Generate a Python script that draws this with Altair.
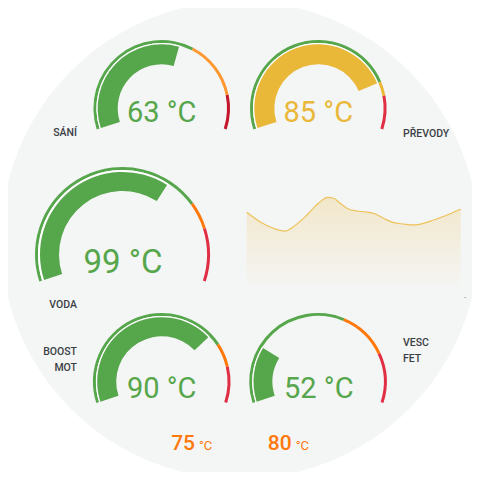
import math
import altair as alt
import pandas as pd

# ---------------- data ----------------
gauge_names = ["SÁNÍ", "PŘEVODY", "VODA", "BOOST MOT", "VESC FET"]
gauge_values = [63, 85, 99, 90, 52]
gauge_min = [0, 0, 0, 0, 30]
gauge_max = [110, 105, 152, 126, 126]
gauge_thresholds = [[69, 95], [85, 91], [114, 127], [96, 108], [88, 107]]

series_t = [0, 3.7, 7.5, 10.8, 13.1, 16.9, 20.1, 22.7, 24.4, 26.2, 28.6,
            30.9, 33.7, 36.1, 38.4, 41.2, 44.0, 46.8, 49.6, 52.4, 56.2, 60]
series_v = [76.5, 66.6, 59.7, 56.8, 61.4, 73.7, 86.0, 92.3, 91.3, 86.0, 79.7,
            77.9, 76.8, 74.7, 70.2, 65.6, 64.2, 63.2, 64.9, 68.4, 73.7, 79.7]

bottom_values = [75, 80]
unit = "°C"

# ---------------- styles / layout ----------------
GREEN = "#56A64B"
YELLOW = "#EAB839"
ORANGE = "#FF780A"
LORANGE = "#FF9830"
RED = "#E02F44"
DRED = "#C4162A"
BG = "#f4f5f5"
LABEL = "#3a3f46"

zone_colors = [
    [GREEN, LORANGE, DRED],
    [GREEN, YELLOW, RED],
    [GREEN, ORANGE, RED],
    [GREEN, ORANGE, RED],
    [GREEN, ORANGE, RED],
]
# cx, cy, ring outer, ring inner, band outer, band inner, font size, text x, text y
layout = [
    (153.7, 100.3, 68.3, 65.3, 64.0, 44.0, 29, 153.7, 113.7),
    (310.3, 100.3, 68.3, 65.3, 64.0, 44.0, 29, 310.3, 113.7),
    (114.5, 246.5, 87.5, 84.5, 82.5, 63.5, 33, 115.0, 265.3),
    (153.7, 373.7, 68.8, 65.8, 64.5, 45.5, 29, 153.7, 390.3),
    (310.0, 373.7, 68.8, 65.8, 64.5, 45.5, 29, 310.8, 390.3),
]
label_pos = [
    (69, [125], "right"),
    (395, [126], "left"),
    (69, [297], "right"),
    (69, [344, 360], "right"),
    (395, [335, 351], "left"),
]

theta_scale = alt.Scale(domain=[0, 1], range=[2 * math.pi - 0.6 * math.pi, 2 * math.pi + 0.6 * math.pi])
FONT = "Roboto"

layers = []

# background circle
layers.append(
    alt.Chart(pd.DataFrame({"a": [0]}))
    .mark_arc(radius=239, radius2=0, theta=0, theta2=2 * math.pi, color=BG)
    .encode(x=alt.value(232), y=alt.value(232))
)

for i in range(len(gauge_names)):
    cx, cy, ro, ri, bo, bi, fs, tx, ty = layout[i]
    mn, mx, val = gauge_min[i], gauge_max[i], gauge_values[i]
    edges = [mn] + gauge_thresholds[i] + [mx]
    ring = pd.DataFrame({
        "start": edges[:-1], "end": edges[1:], "color": zone_colors[i],
        "mn": mn, "mx": mx,
    })
    band_color = zone_colors[i][0]
    for k, t in enumerate(gauge_thresholds[i]):
        if val >= t:
            band_color = zone_colors[i][k + 1]
    band = pd.DataFrame({"start": [mn], "end": [val], "color": [band_color],
                         "mn": [mn], "mx": [mx], "value": [val]})

    def arcs(df, r_out, r_in, color=None):
        ch = alt.Chart(df).transform_calculate(
            fs="(datum.start - datum.mn) / (datum.mx - datum.mn)",
            fe="(datum.end - datum.mn) / (datum.mx - datum.mn)",
        )
        if color is None:
            m = ch.mark_arc(radius=r_out, radius2=r_in)
            enc = dict(color=alt.Color("color:N", scale=None))
        else:
            m = ch.mark_arc(radius=r_out, radius2=r_in, color=color)
            enc = {}
        return m.encode(
            theta=alt.Theta("fs:Q", scale=theta_scale, stack=None),
            theta2="fe:Q",
            x=alt.value(cx), y=alt.value(cy), **enc,
        )

    layers.append(arcs(ring, ro, ri))
    layers.append(arcs(band, ri, bo, color="#ffffff"))
    layers.append(arcs(band, bo, bi))
    layers.append(
        alt.Chart(band).transform_calculate(label="datum.value + ' " + unit + "'")
        .mark_text(font=FONT, fontSize=fs, align="center", baseline="alphabetic")
        .encode(text="label:N", color=alt.Color("color:N", scale=None),
                x=alt.value(tx), y=alt.value(ty))
    )
    lx, lys, al = label_pos[i]
    for word, ly in zip(gauge_names[i].split(" "), lys):
        layers.append(
            alt.Chart(pd.DataFrame({"t": [word]}))
            .mark_text(font=FONT, fontSize=10.5, fontWeight=500, align=al,
                       baseline="middle", color=LABEL)
            .encode(text="t:N", x=alt.value(lx), y=alt.value(ly))
        )

# area sparkline
area_df = pd.DataFrame({"t": series_t, "v": series_v})
layers.append(
    alt.Chart(area_df)
    .mark_area(
        interpolate="monotone",
        line={"color": "#EDC25A", "strokeWidth": 1.2},
        color=alt.Gradient(
            gradient="linear",
            stops=[alt.GradientStop(color="rgba(234,184,57,0.33)", offset=0),
                   alt.GradientStop(color="rgba(234,184,57,0.02)", offset=1)],
            x1=1, x2=1, y1=0, y2=1,
        ),
    )
    .encode(
        x=alt.X("t:Q", scale=alt.Scale(domain=[0, 60], range=[238.7, 452.7]), axis=None),
        y=alt.Y("v:Q", scale=alt.Scale(domain=[0, 100], range=[277, 182]), axis=None),
    )
)
layers.append(
    alt.Chart(pd.DataFrame({"t": ["-"]}))
    .mark_text(font=FONT, fontSize=8, color="#8e8e8e", align="center", baseline="middle")
    .encode(text="t:N", x=alt.value(457), y=alt.value(290))
)

# bottom stat values
bx = [187, 283.7]
for v, x in zip(bottom_values, bx):
    layers.append(
        alt.Chart(pd.DataFrame({"v": [v]}))
        .mark_text(font=FONT, fontSize=21, fontWeight=500, color=ORANGE,
                   align="right", baseline="alphabetic")
        .encode(text="v:N", x=alt.value(x), y=alt.value(442))
    )
    layers.append(
        alt.Chart(pd.DataFrame({"u": [unit]}))
        .mark_text(font=FONT, fontSize=13, color=ORANGE,
                   align="left", baseline="alphabetic")
        .encode(text="u:N", x=alt.value(x + 4), y=alt.value(442))
    )

chart = (
    alt.layer(*layers)
    .properties(width=464, height=464, padding=0, autosize=alt.AutoSizeParams(type="none"))
    .configure_view(stroke=None)
)
chart.save("out.html", embed_options={"renderer": "svg", "actions": False})
